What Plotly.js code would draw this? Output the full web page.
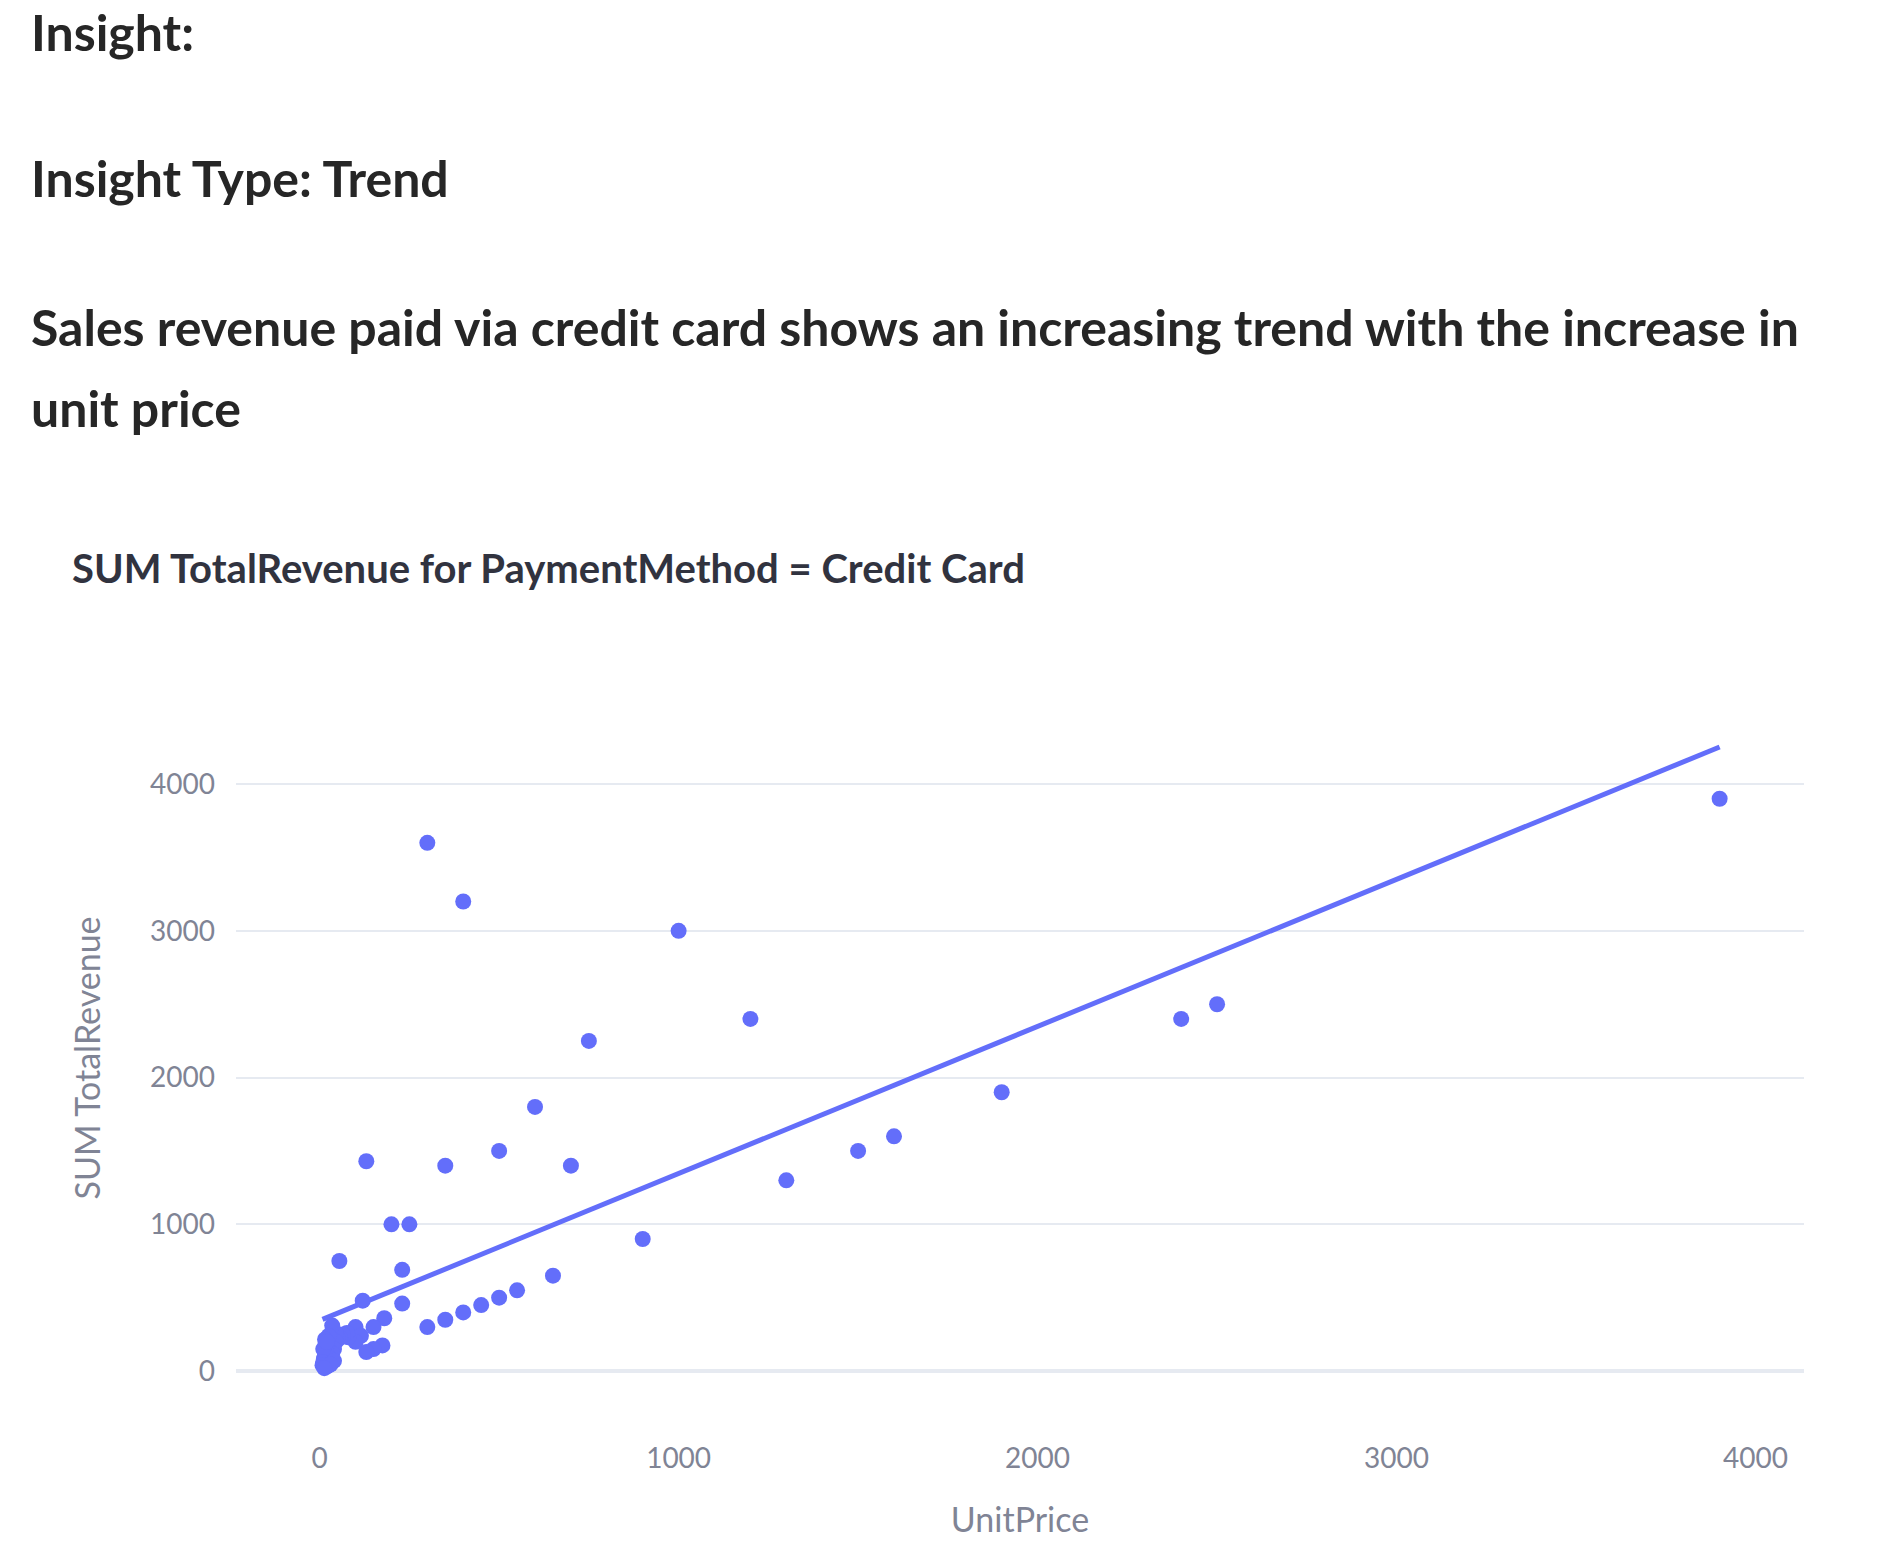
<!DOCTYPE html>
<html>
<head>
<meta charset="utf-8">
<script src="https://cdn.plot.ly/plotly-3.0.1.min.js"></script>
<style>
  body { margin: 0; background: #fff; }
  .txt {
    position: absolute;
    left: 31px;
    font-family: Lato, sans-serif;
    font-weight: 700;
    font-size: 50px;
    line-height: 81px;
    color: #262626;
    z-index: 2;
    white-space: nowrap;
  }
  #chart { position: absolute; left: 0; top: 0; width: 1890px; height: 1558px; }
</style>
</head>
<body>
<div class="txt" style="top:-8px">Insight:</div>
<div class="txt" style="top:138px">Insight Type: Trend</div>
<div class="txt" style="top:287px">Sales revenue paid via credit card shows an increasing trend with the increase in<br>unit price</div>
<div id="chart"></div>
<script>
// unit price vs summed revenue, credit card only
let unitPrice = [
    300, 400, 1000, 1200, 750, 600, 130, 350, 500, 700,
    1300, 1500, 1600, 1900, 2400, 2500, 3900, 900, 650, 550,
    500, 450, 400, 350, 300, 200, 250, 230, 230, 55,
    120, 180, 150, 100, 175, 150, 130, 115, 100, 80,
    76, 65, 57, 50, 45, 35, 45, 40, 35, 30,
    25, 25, 20, 20, 18, 15, 15, 12, 10, 10,
    8, 40, 30, 20, 13
];
let totalRevenue = [
    3600, 3200, 3000, 2400, 2250, 1800, 1430, 1400, 1500, 1400,
    1300, 1500, 1600, 1900, 2400, 2500, 3900, 900, 650, 550,
    500, 450, 400, 350, 300, 1000, 1000, 690, 460, 750,
    480, 360, 300, 300, 175, 150, 130, 240, 200, 230,
    260, 250, 226, 230, 260, 310, 200, 150, 120, 60,
    240, 90, 180, 30, 130, 110, 215, 85, 150, 60,
    40, 70, 45, 200, 20
];

// OLS trend as drawn in the picture
let trendIntercept = 344;
let trendSlope = 1.0023;

let mainColor = "#636efa";
let greyText = "#808495";

function plotChart()
{
    let xMin = Math.min(...unitPrice);
    let xMax = Math.max(...unitPrice);
    let trendX = [xMin, xMax];
    let trendY = trendX.map(v => trendIntercept + trendSlope * v);

    let points = {
        x: unitPrice,
        y: totalRevenue,
        mode: 'markers',
        type: 'scatter',
        hoverinfo: 'skip',
        marker: {
            size: 16,
            color: mainColor
        }
    };
    let trend = {
        x: trendX,
        y: trendY,
        mode: 'lines',
        type: 'scatter',
        hoverinfo: 'skip',
        line: {
            color: mainColor,
            width: 5
        }
    };

    let layout = {
        width: 1890,
        height: 1558,
        showlegend: false,
        paper_bgcolor: 'rgba(0,0,0,0)',
        plot_bgcolor: '#fff',
        margin: {l: 236, r: 86, t: 710, b: 152, pad: 0},
        font: {family: 'Lato, sans-serif', color: greyText},
        title: {
            text: 'SUM TotalRevenue for PaymentMethod = Credit Card',
            font: {family: 'Lato, sans-serif', size: 40, weight: 700, color: '#31333F'},
            xref: 'container',
            x: 72 / 1890,
            xanchor: 'left',
            yref: 'container',
            y: 1 - 569 / 1558,
            yanchor: 'middle'
        },
        xaxis: {
            range: [-233, 4135],
            dtick: 1000,
            showgrid: false,
            zeroline: false,
            showline: false,
            ticks: '',
            ticklabelstandoff: 33,
            tickfont: {size: 28, color: greyText},
            title: {text: 'UnitPrice', font: {size: 34, color: greyText}, standoff: 35}
        },
        yaxis: {
            range: [-238, 4505],
            dtick: 1000,
            gridcolor: '#e6eaf1',
            gridwidth: 2,
            zeroline: true,
            zerolinecolor: '#e6eaf1',
            zerolinewidth: 4,
            showline: false,
            ticks: '',
            ticklabelstandoff: 20,
            tickfont: {size: 28, color: greyText},
            title: {text: 'SUM TotalRevenue', font: {size: 34, color: greyText}, standoff: 39}
        }
    };

    Plotly.newPlot('chart', [trend, points], layout, {staticPlot: true});
}

plotChart();
</script>
</body>
</html>
